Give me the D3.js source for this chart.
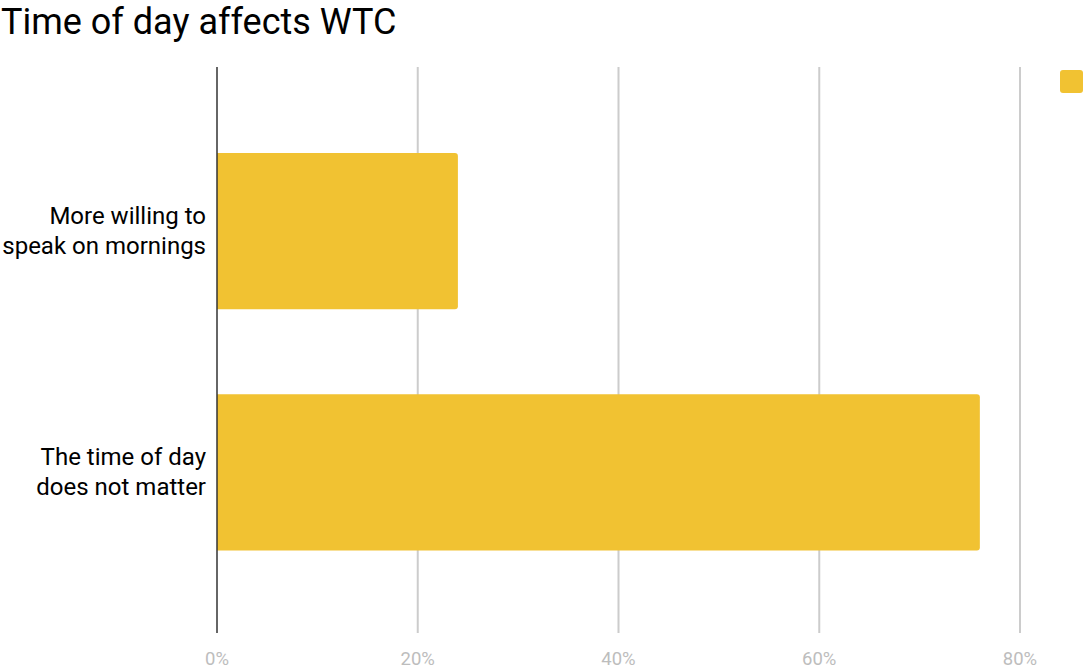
<!DOCTYPE html>
<html>
<head>
<meta charset="utf-8">
<script src="https://cdn.jsdelivr.net/npm/d3@7"></script>
<style>
  body { margin: 0; background: #fff; }
  text { font-family: Roboto, sans-serif; }
</style>
</head>
<body>
<div id="chart"></div>
<script>
var categories = [
    ["More willing to", "speak on mornings"],
    ["The time of day", "does not matter"]
];
var values = [24, 76];
var tickValues = [0, 20, 40, 60, 80];

var width = 1085,
    height = 671,
    margins = {top: 67, right: 65, bottom: 38, left: 217};

var svg = d3.select("#chart")
    .append("svg")
        .attr("width", width)
        .attr("height", height);

/* Title */
svg.append("text")
    .attr("x", 1)
    .attr("y", 34)
    .attr("font-size", 36)
    .attr("fill", "#000")
    .text("Time of day affects WTC");

/* Scales */
var x = d3.scaleLinear()
    .domain([0, 80])
    .range([margins.left, 1020]);
var y = d3.scaleBand()
    .domain(d3.range(categories.length))
    .range([margins.top + 1.5, height - margins.bottom + 2])
    .paddingInner(0.353)
    .paddingOuter(0.35);

/* Gridlines */
svg.selectAll(".grid")
    .data(tickValues.slice(1))
    .enter()
    .append("line")
        .attr("class", "grid")
        .attr("x1", function(d){ return x(d); })
        .attr("x2", function(d){ return x(d); })
        .attr("y1", margins.top)
        .attr("y2", height - margins.bottom)
        .attr("stroke", "#cccccc")
        .attr("stroke-width", 2);

/* Tick labels */
svg.selectAll(".tick-label")
    .data(tickValues)
    .enter()
    .append("text")
        .attr("class", "tick-label")
        .attr("x", function(d){ return x(d); })
        .attr("y", 665)
        .attr("text-anchor", "middle")
        .attr("font-size", 18.5)
        .attr("fill", "#bdbdbd")
        .text(function(d){ return d + "%"; });

/* Bars */
svg.selectAll(".bar")
    .data(values)
    .enter()
    .append("path")
        .attr("class", "bar")
        .attr("fill", "#f1c232")
        .attr("d", function(d, i){
            var x0 = x(0), x1 = x(d), y0 = y(i), h = y.bandwidth(), r = 3;
            return "M" + x0 + "," + y0 +
                "H" + (x1 - r) + "Q" + x1 + "," + y0 + " " + x1 + "," + (y0 + r) +
                "V" + (y0 + h - r) + "Q" + x1 + "," + (y0 + h) + " " + (x1 - r) + "," + (y0 + h) +
                "H" + x0 + "Z";
        });

/* Zero line */
svg.append("line")
    .attr("x1", x(0))
    .attr("x2", x(0))
    .attr("y1", margins.top)
    .attr("y2", height - margins.bottom)
    .attr("stroke", "#333333")
    .attr("stroke-width", 1.5);

/* Category labels */
var labels = svg.selectAll(".cat-label")
    .data(categories)
    .enter()
    .append("text")
        .attr("class", "cat-label")
        .attr("text-anchor", "end")
        .attr("font-size", 24)
        .attr("fill", "#000")
        .attr("transform", function(d, i){
            return "translate(" + (x(0) - 11) + "," + (y(i) + y.bandwidth() / 2) + ")";
        });
labels.selectAll("tspan")
    .data(function(d){ return d; })
    .enter()
    .append("tspan")
        .attr("x", 0)
        .attr("y", function(d, i){ return i * 30 - 7; })
        .text(function(d){ return d; });

/* Legend */
svg.append("rect")
    .attr("x", 1060)
    .attr("y", 70)
    .attr("width", 23)
    .attr("height", 23)
    .attr("rx", 3)
    .attr("fill", "#f1c232");
</script>
</body>
</html>
